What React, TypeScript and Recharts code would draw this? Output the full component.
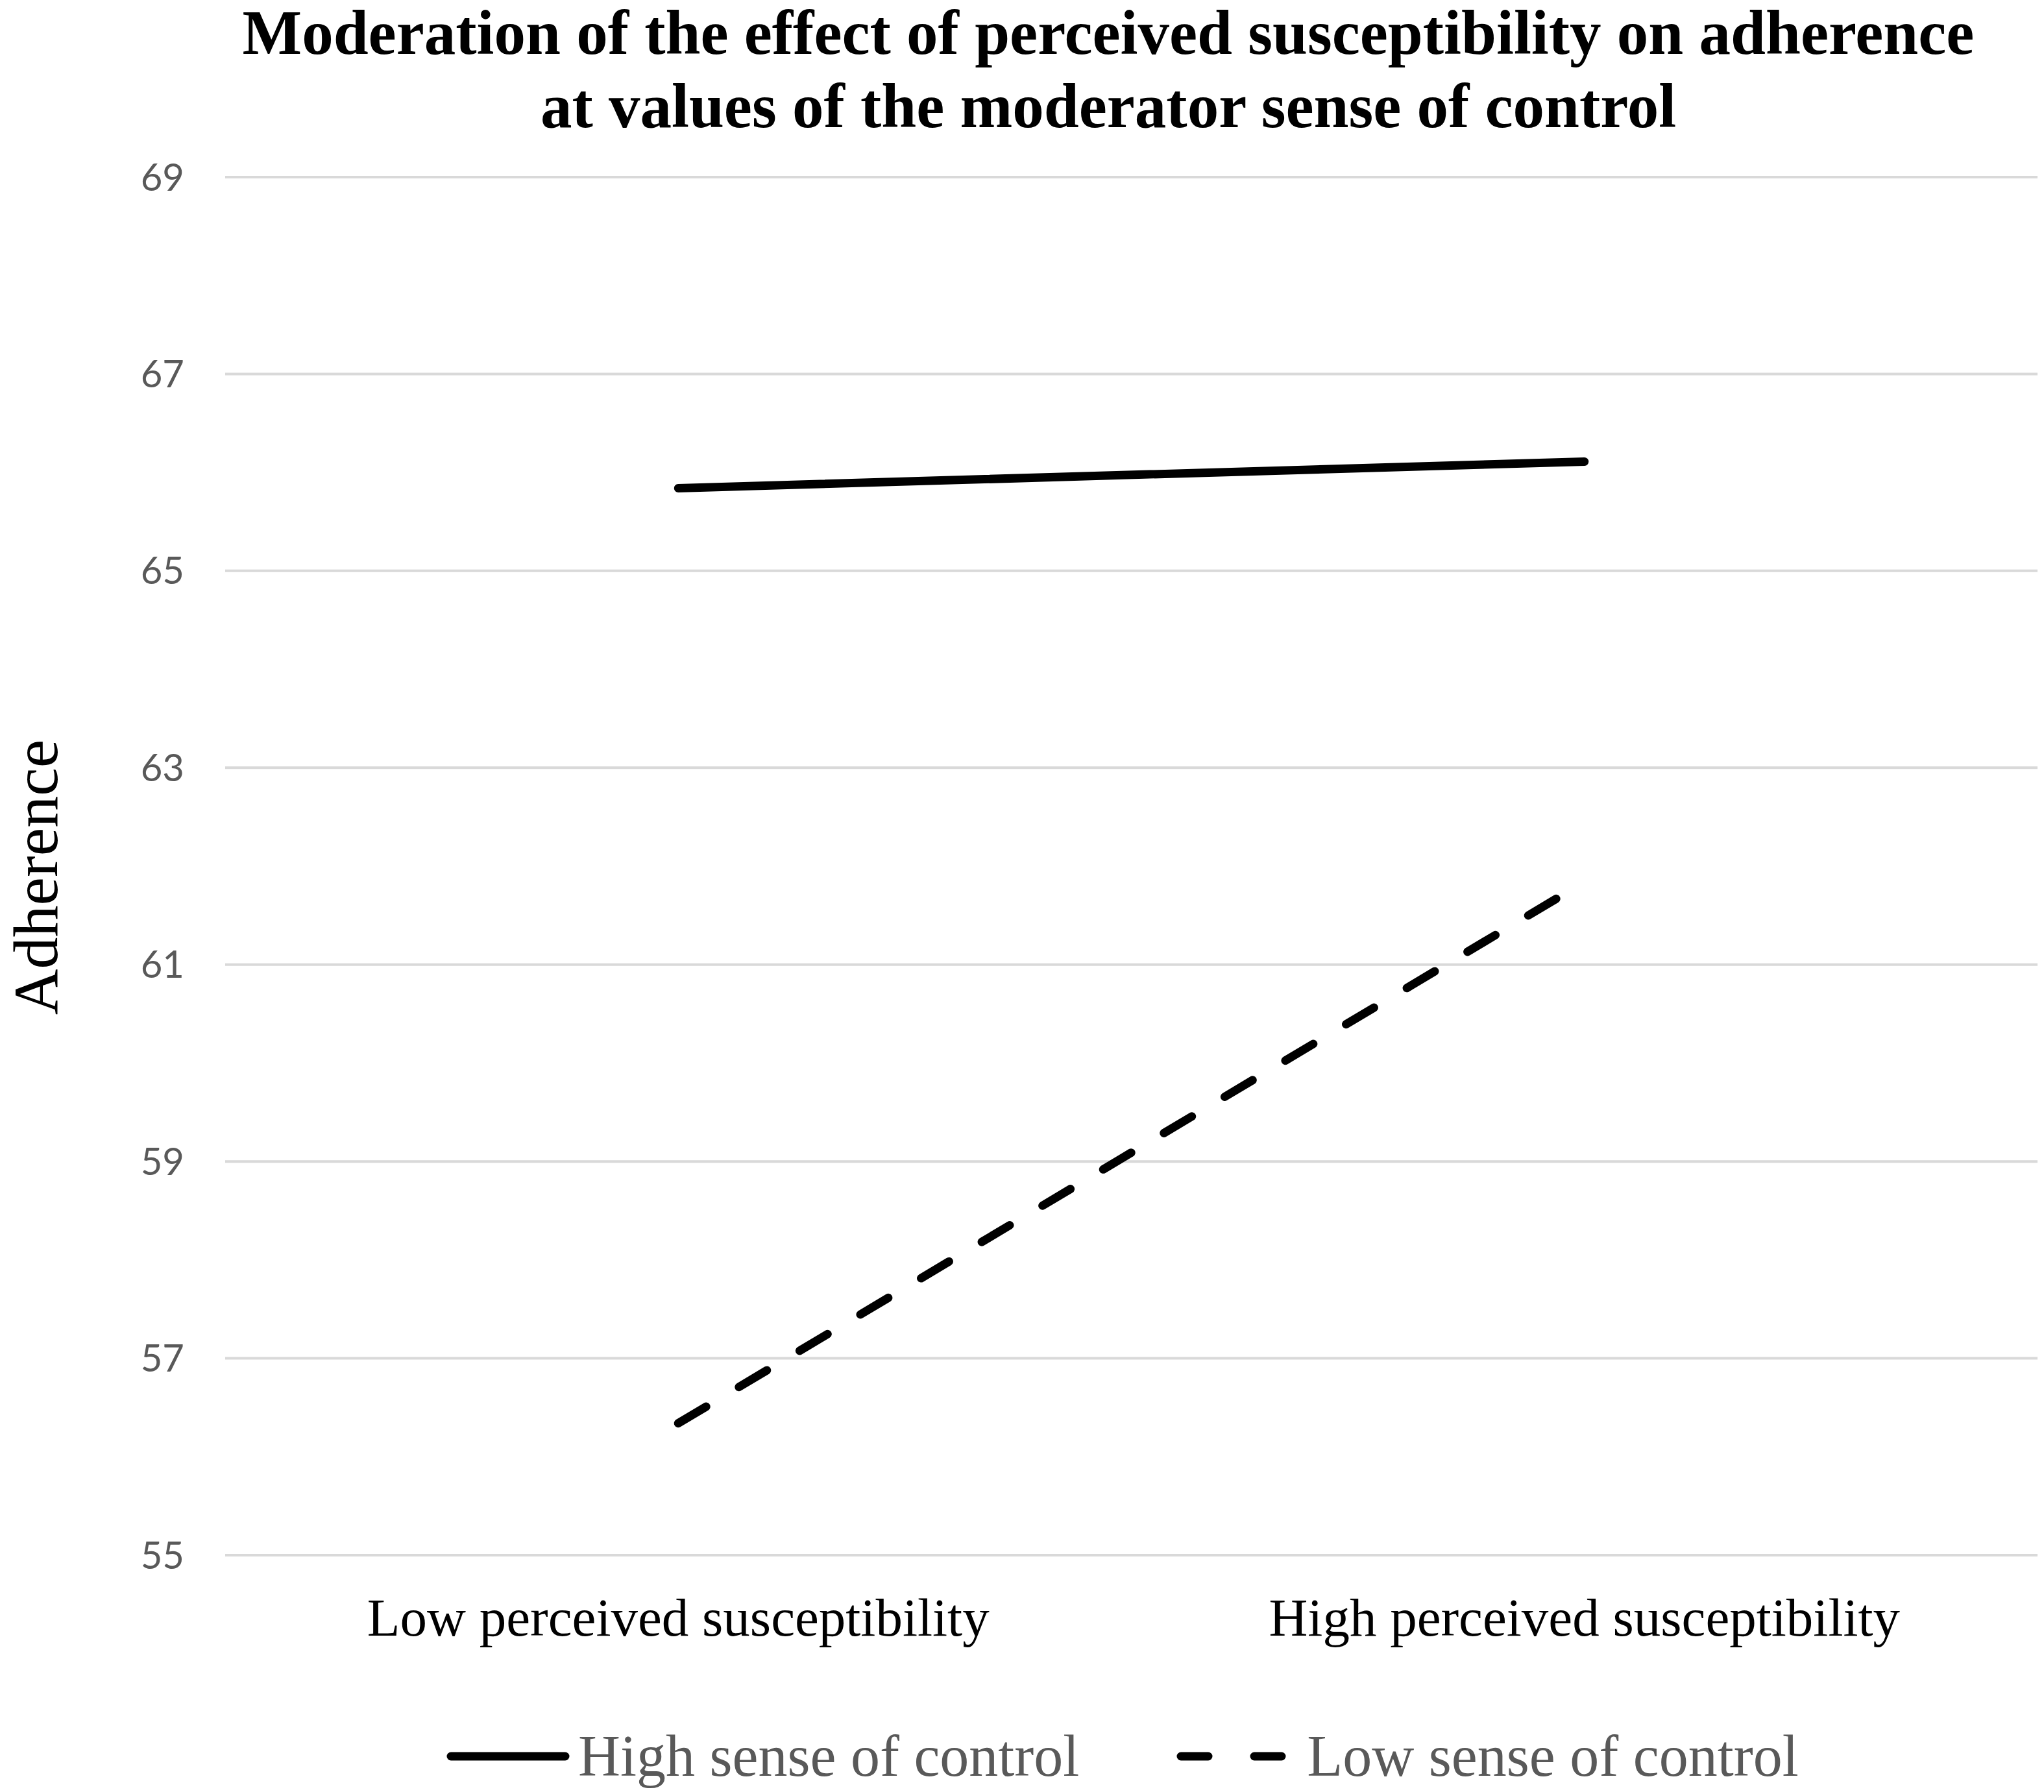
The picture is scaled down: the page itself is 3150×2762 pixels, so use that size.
import React from 'react';
import { LineChart, Line, XAxis, YAxis, CartesianGrid, Legend } from 'recharts';

const categories = ['Low perceived susceptibility', 'High perceived susceptibility'];
const highControl = [65.84, 66.11];
const lowControl = [56.34, 61.84];
const yTicks = [55, 57, 59, 61, 63, 65, 67, 69];
const titleLines = [
  'Moderation of the effect of perceived susceptibility on adherence',
  'at values of the moderator sense of control',
];
const seriesNames = ['High sense of control', 'Low sense of control'];

const data = categories.map((c, i) => ({ name: c, high: highControl[i], low: lowControl[i] }));

const SERIF = '"Liberation Serif", "Times New Roman", serif';

const YLabel = (props: any) => {
  const vb = props.viewBox || {};
  const cy = vb.y + vb.height / 2 + 17;
  return (
    <text
      x={88}
      y={cy}
      transform={`rotate(-90, 88, ${cy})`}
      textAnchor="middle"
      fontFamily={SERIF}
      fontSize={98}
      fill="#000"
    >
      Adherence
    </text>
  );
};

const LegendContent = () => (
  <div style={{ display: 'flex', alignItems: 'center', paddingLeft: 688, lineHeight: '100px', height: 100 }}>
    <svg width={190} height={20} style={{ display: 'block' }}>
      <line x1={7} y1={10} x2={183} y2={10} stroke="#000" strokeWidth={13} strokeLinecap="round" />
    </svg>
    <span style={{ marginLeft: 13, fontFamily: SERIF, fontSize: 90, color: '#595959' }}>{seriesNames[0]}</span>
    <svg width={170} height={20} style={{ display: 'block', marginLeft: 150 }}>
      <line x1={7} y1={10} x2={163} y2={10} stroke="#000" strokeWidth={13} strokeLinecap="round" strokeDasharray="42 71" />
    </svg>
    <span style={{ marginLeft: 31, fontFamily: SERIF, fontSize: 90, color: '#595959' }}>{seriesNames[1]}</span>
  </div>
);

export default function App() {
  return (
    <div style={{ position: 'relative', width: 3150, height: 2762, background: '#fff' }}>
      <style>{`body{margin:0;background:#fff}`}</style>
      <div
        style={{
          position: 'absolute',
          top: -6,
          left: 108,
          width: 3200,
          textAlign: 'center',
          fontFamily: SERIF,
          fontWeight: 'bold',
          fontSize: 97,
          lineHeight: '113px',
          color: '#000',
          zIndex: 2,
        }}
      >
        {titleLines.map((t) => (
          <div key={t}>{t}</div>
        ))}
      </div>
      <LineChart width={3150} height={2762} data={data} margin={{ top: 273, right: 10, bottom: 165, left: 0 }}>
        <CartesianGrid vertical={false} stroke="#d9d9d9" strokeWidth={4} />
        <XAxis
          dataKey="name"
          scale="band"
          axisLine={false}
          tickLine={false}
          tickSize={0}
          tickMargin={65}
          height={200}
          interval={0}
          tick={{ fontFamily: SERIF, fontSize: 83, fill: '#000' }}
        />
        <YAxis
          domain={[55, 69]}
          ticks={yTicks}
          width={347}
          axisLine={false}
          tickLine={false}
          tickSize={0}
          tickMargin={63}
          tick={{ fontFamily: 'Lato, "Open Sans", sans-serif', fontSize: 58, fill: '#595959' }}
          label={<YLabel />}
        />
        <Legend
          layout="horizontal"
          verticalAlign="middle"
          align="center"
          content={<LegendContent />}
          wrapperStyle={{ top: 2657, left: 0, width: 3150, height: 100 }}
        />
        <Line
          type="linear"
          dataKey="high"
          name={seriesNames[0]}
          stroke="#000"
          strokeWidth={13}
          strokeLinecap="round"
          dot={false}
          activeDot={false}
          isAnimationActive={false}
        />
        <Line
          type="linear"
          dataKey="low"
          name={seriesNames[1]}
          stroke="#000"
          strokeWidth={13}
          strokeLinecap="round"
          strokeDasharray="50 59"
          dot={false}
          activeDot={false}
          isAnimationActive={false}
        />
      </LineChart>
    </div>
  );
}
